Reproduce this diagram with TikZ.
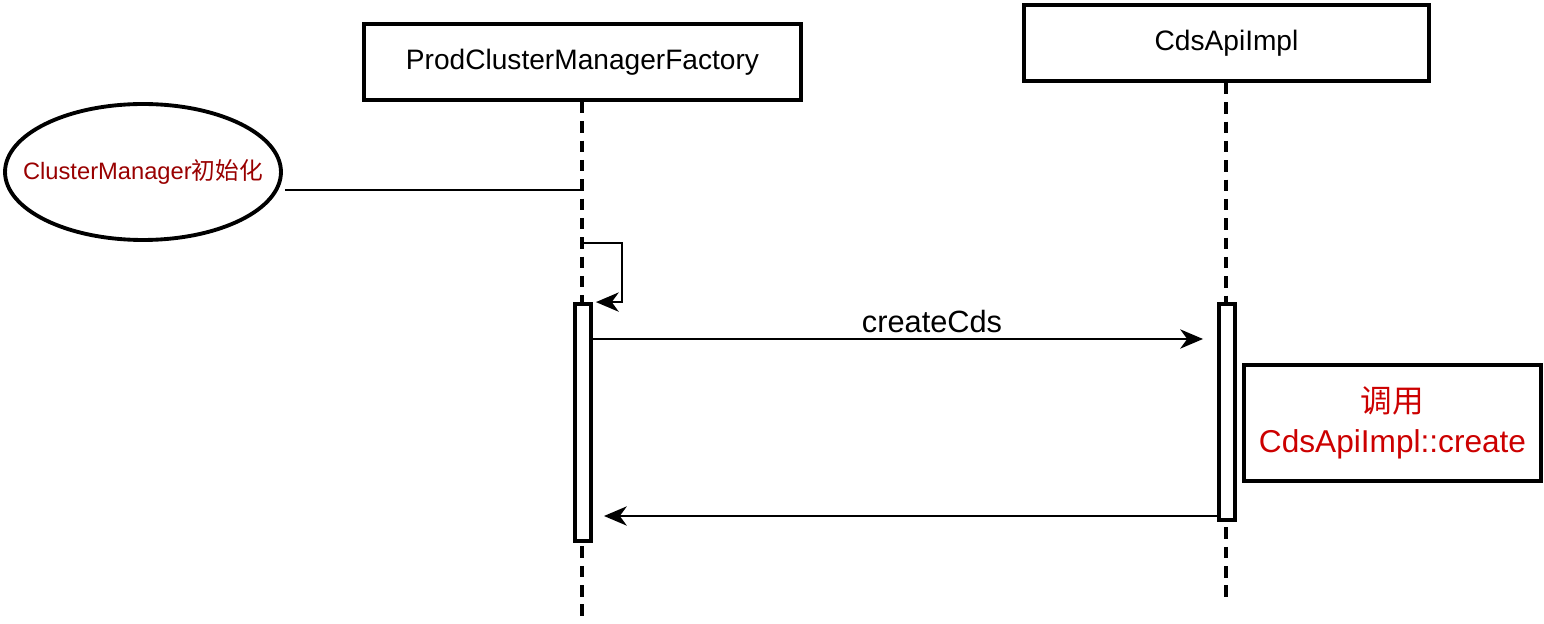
\documentclass[tikz,border=0pt]{standalone}
\usepackage{fontspec}
\setmainfont{Liberation Sans}
\newfontfamily\cjk{Noto Sans CJK SC}
\usetikzlibrary{arrows.meta,shapes.geometric}
\definecolor{initred}{HTML}{990000}
\definecolor{notered}{HTML}{CC0000}
\begin{document}
\begin{tikzpicture}[x=0.02cm, y=-0.02cm]
    \tikzstyle{head_box}=[draw, line width=2.2pt, minimum height=1.52cm, inner sep=0pt, font=\fontsize{16}{19}\selectfont]
    \tikzstyle{life_line}=[line width=1.9pt, dash pattern=on 6.5pt off 4.5pt]
    \tikzstyle{act_bar}=[draw, fill=white, line width=2.2pt, minimum width=0.32cm, inner sep=0pt]
    \tikzstyle{msg}=[line width=0.95pt, -{Stealth[length=13pt, width=11pt, inset=4pt]}]
    \useasboundingbox (0,0) rectangle (1544,624);

    % --- lifelines ---
    \node[head_box, minimum width=8.74cm] (factory) at (582.5,62) {ProdClusterManagerFactory};
    \node[head_box, minimum width=8.10cm] (cdsapi) at (1226.5,43) {CdsApiImpl};
    \coordinate (factory_end) at (582,618);
    \coordinate (cdsapi_end) at (1226,598);
    \draw[life_line] (factory.south -| factory_end) -- (factory_end);
    \draw[life_line] (cdsapi.south -| cdsapi_end) -- (cdsapi_end);

    % --- trigger ---
    \node[ellipse, draw, line width=2.2pt, minimum width=5.52cm, minimum height=2.72cm, inner sep=0pt,
          text=initred, font=\fontsize{13.5}{16}\selectfont] (init) at (143,172)
          {\makebox[0pt]{ClusterManager{\cjk 初始化}}};
    \coordinate (init_hook) at (582,190);
    \draw[line width=0.95pt] ([xshift=0.04cm]init.east |- init_hook) -- (init_hook);

    % --- activations ---
    \node[act_bar, minimum height=4.74cm] (act1) at (583,422.5) {};
    \node[act_bar, minimum height=4.32cm] (act2) at (1227,412) {};

    % --- self call ---
    \coordinate (self_out) at (582,243);
    \draw[msg] (self_out) -- (622,243) |- ([xshift=0.06cm]act1.north east);

    % --- createCds ---
    \coordinate (cds_end) at (1203,339);
    \draw[msg] (act1.east |- cds_end) -- (cds_end);
    \node[font=\fontsize{17.5}{20}\selectfont] (cds_lbl) at (932,322) {createCds};

    % --- note ---
    \node[draw, line width=2.2pt, minimum width=5.94cm, minimum height=2.32cm, inner sep=0pt, align=center,
          text=notered, font=\fontsize{18}{23}\selectfont] (note) at (1392.5,423) {{\cjk 调用}\\CdsApiImpl::create};

    % --- return ---
    \coordinate (ret_end) at (604,516);
    \draw[msg] (act2.west |- ret_end) -- (ret_end);
\end{tikzpicture}
\end{document}
